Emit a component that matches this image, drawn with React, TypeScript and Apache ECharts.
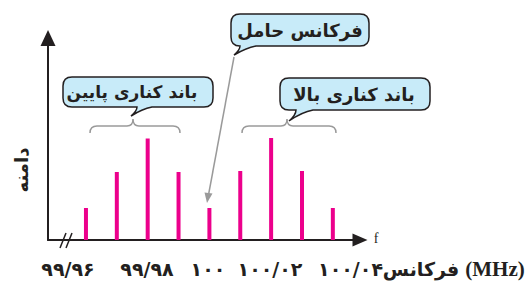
import React, { useEffect, useRef } from "react";
import * as echarts from "echarts";

// ---- data ----
const frequencies = [99.96, 99.97, 99.98, 99.99, 100.0, 100.01, 100.02, 100.03, 100.04];
const amplitudes = [0.32, 0.68, 1.015, 0.68, 0.32, 0.69, 1.02, 0.69, 0.32];
const tickLabels = ["۹۹/۹۶", "۹۹/۹۸", "۱۰۰", "۱۰۰/۰۲", "۱۰۰/۰۴"];
const axisTitle = "فرکانس";
const unitLabel = "(MHz)";
const yTitle = "دامنه";
const fLabel = "f";
const callouts = ["فرکانس حامل", "باند کناری پایین", "باند کناری بالا"];

// ---- layout (pixels) ----
const tickX = [68, 147, 208, 270, 383];
const tickAlign = ["center", "center", "center", "center", "right"];

const INK = "#231f20";
const BAR = "#ec008c";
const GRAY = "#9a9a9a";
const BUBBLE = "#c8ebf9";
const FA = "'DejaVu Sans', sans-serif";

const shapes: Record<string, string> = {
  bubble1:
    "M240,14 L360,14 Q369,14 369,23 L369,37 Q369,46 360,46 L256,46 Q246,48 234,55 Q240,50 240,46 Q231,46 231,37 L231,23 Q231,14 240,14 Z",
  bubble2:
    "M72,77 L204,77 Q213,77 213,86 L213,98 Q213,107 204,107 L152,107 Q142,109 131,116 Q137,111 137,107 L72,107 Q63,107 63,98 L63,86 Q63,77 72,77 Z",
  bubble3:
    "M289,78 L421,78 Q430,78 430,87 L430,101 Q430,110 421,110 L313,110 Q302,112 289,121 Q296,115 296,110 L289,110 Q280,110 280,101 L280,87 Q280,78 289,78 Z",
  brace1:
    "M90,133 Q90,126 97,126 L127,126 Q133,126 133,119 Q133,126 139,126 L173,126 Q180,126 180,133",
  brace2:
    "M242,133 Q242,126 249,126 L281,126 Q287,126 287,119 Q287,126 293,126 L329,126 Q336,126 336,133",
};
let registered = false;
function registerShapes() {
  if (registered) return;
  registered = true;
  Object.keys(shapes).forEach((k) => {
    echarts.graphic.registerShape(k, echarts.graphic.extendPath(shapes[k], {}) as any);
  });
}

function txt(text: string, x: number, y: number, font: string, align = "center", extra: any = {}) {
  return {
    type: "text",
    x,
    y,
    ...extra,
    style: {
      text,
      font,
      fill: INK,
      textAlign: align,
      textVerticalAlign: "middle",
      align,
      verticalAlign: "middle",
    },
  };
}

export default function App() {
  const ref = useRef<HTMLDivElement>(null);
  useEffect(() => {
    document.body.style.margin = "0";
    registerShapes();
    const chart = echarts.init(ref.current!, undefined, { renderer: "svg" });
    const axisLine = (size: number[]) => ({
      show: true,
      symbol: ["none", "triangle"],
      symbolSize: size,
      lineStyle: { color: INK, width: 2 },
    });
    const graphic: any[] = [
      // braces
      { type: "brace1", x: 0, y: 0, style: { fill: "none", stroke: GRAY, lineWidth: 1.5 } },
      { type: "brace2", x: 0, y: 0, style: { fill: "none", stroke: GRAY, lineWidth: 1.5 } },
      // bubbles
      { type: "bubble1", x: 0, y: 0, style: { fill: BUBBLE, stroke: INK, lineWidth: 1.5 } },
      { type: "bubble2", x: 0, y: 0, style: { fill: BUBBLE, stroke: INK, lineWidth: 1.5 } },
      { type: "bubble3", x: 0, y: 0, style: { fill: BUBBLE, stroke: INK, lineWidth: 1.5 } },
      txt(callouts[0], 300, 30, `bold 18px ${FA}`),
      txt(callouts[1], 132, 92, `bold 17px ${FA}`),
      txt(callouts[2], 354, 94, `bold 18px ${FA}`),
      // pointer to carrier
      { type: "line", shape: { x1: 234, y1: 57, x2: 208.5, y2: 195 }, style: { stroke: GRAY, lineWidth: 1.5 } },
      { type: "polygon", shape: { points: [[207, 203], [212.5, 193.5], [204.5, 192.5]] }, style: { fill: GRAY } },
      // axis break
      { type: "rect", shape: { x: 63, y: 238, width: 5, height: 4 }, style: { fill: "#fff" } },
      { type: "line", shape: { x1: 60, y1: 248, x2: 66, y2: 233 }, style: { stroke: INK, lineWidth: 1.5 } },
      { type: "line", shape: { x1: 66, y1: 248, x2: 72, y2: 233 }, style: { stroke: INK, lineWidth: 1.5 } },
      // axis titles
      txt(fLabel, 376, 238, "14px 'Liberation Serif', serif", "center"),
      txt(yTitle, 21, 170, `bold 18px ${FA}`, "center", { rotation: Math.PI / 2 }),
      txt(axisTitle, 421, 269, `bold 19px ${FA}`),
      txt(unitLabel, 495, 269, "bold 21px 'Liberation Serif', serif"),
    ];
    tickLabels.forEach((t, i) => {
      graphic.push(txt(t, tickX[i], 269, `bold 19px ${FA}`, tickAlign[i]));
    });
    chart.setOption({
      animation: false,
      grid: { left: 48, top: 38, width: 312, height: 202 },
      xAxis: {
        type: "value",
        min: 99.9477,
        max: 100.0488,
        axisLine: axisLine([13, 15]),
        axisTick: { show: false },
        axisLabel: { show: false },
        splitLine: { show: false },
      },
      yAxis: {
        type: "value",
        min: 0,
        max: 2.02,
        axisLine: axisLine([15, 16]),
        axisTick: { show: false },
        axisLabel: { show: false },
        splitLine: { show: false },
      },
      series: [
        {
          type: "bar",
          barWidth: 4,
          itemStyle: { color: BAR },
          data: frequencies.map((f, i) => [f, amplitudes[i]]),
          z: 1,
        },
      ],
      graphic,
    });
    return () => chart.dispose();
  }, []);
  return <div ref={ref} style={{ width: 528, height: 281 }} />;
}
